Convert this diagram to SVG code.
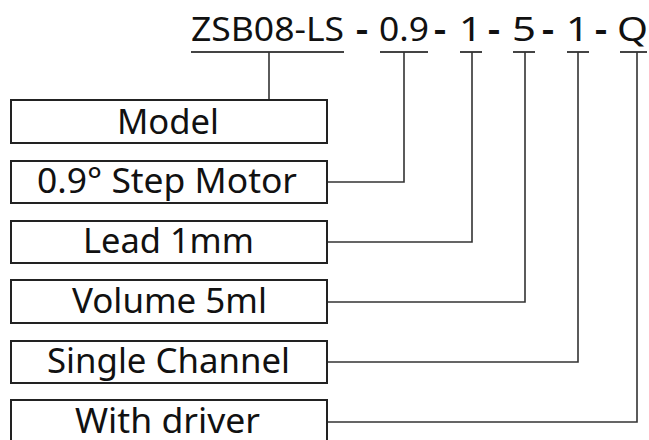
<svg xmlns="http://www.w3.org/2000/svg" width="649" height="440" viewBox="0 0 649 440">
<style>
.bg{fill:#fff}
.box{fill:#fff;stroke:#222;stroke-width:2}
.lbl{font-family:"Noto Sans","Liberation Sans",sans-serif;font-size:34px;fill:#111}
.ttl{font-family:"Noto Sans","Liberation Sans",sans-serif;font-size:33px;fill:#111}
.dash{font-family:"Noto Sans","Liberation Sans",sans-serif;font-size:33px;font-weight:bold;fill:#111}
.ul{stroke:#444;stroke-width:1.8;fill:none}
.con{stroke:#333;stroke-width:1.6;fill:none}
</style>
<rect class="bg" x="0" y="0" width="649" height="440"/>
<g id="title">
<text class="ttl" x="191" y="41" textLength="153" lengthAdjust="spacingAndGlyphs">ZSB08-LS</text>
<text class="dash" x="356" y="41" textLength="12" lengthAdjust="spacingAndGlyphs">-</text>
<text class="ttl" x="379" y="41" textLength="50" lengthAdjust="spacingAndGlyphs">0.9</text>
<text class="dash" x="434" y="41" textLength="12" lengthAdjust="spacingAndGlyphs">-</text>
<text class="ttl" x="459" y="41" textLength="23" lengthAdjust="spacingAndGlyphs">1</text>
<text class="dash" x="488" y="41" textLength="12" lengthAdjust="spacingAndGlyphs">-</text>
<text class="ttl" x="512" y="41" textLength="24" lengthAdjust="spacingAndGlyphs">5</text>
<text class="dash" x="542" y="41" textLength="12" lengthAdjust="spacingAndGlyphs">-</text>
<text class="ttl" x="566" y="41" textLength="23" lengthAdjust="spacingAndGlyphs">1</text>
<text class="dash" x="595" y="41" textLength="12" lengthAdjust="spacingAndGlyphs">-</text>
<text class="ttl" x="617" y="41" textLength="31" lengthAdjust="spacingAndGlyphs">Q</text>
<path class="ul" d="M191,52H344M380,52H428M460,52H482M513,52H535M567,52H589M620,52H647"/>
</g>
<g id="connectors">
<path class="con" d="M269,52V100"/>
<path class="con" d="M327,182H404V52"/>
<path class="con" d="M327,242H472V52"/>
<path class="con" d="M327,302H525V52"/>
<path class="con" d="M327,362H578V52"/>
<path class="con" d="M327,422H637V52"/>
</g>
<g id="node-model">
<rect class="box" x="11" y="100" width="316" height="43"/>
<text class="lbl" x="117" y="134" textLength="102" lengthAdjust="spacingAndGlyphs">Model</text>
</g>
<g id="node-step">
<rect class="box" x="11" y="161" width="316" height="42"/>
<text class="lbl" x="37" y="193" textLength="260" lengthAdjust="spacingAndGlyphs">0.9° Step Motor</text>
</g>
<g id="node-lead">
<rect class="box" x="11" y="221" width="316" height="42"/>
<text class="lbl" x="83" y="253" textLength="171" lengthAdjust="spacingAndGlyphs">Lead 1mm</text>
</g>
<g id="node-volume">
<rect class="box" x="11" y="280" width="316" height="43"/>
<text class="lbl" x="72" y="313" textLength="195" lengthAdjust="spacingAndGlyphs">Volume 5ml</text>
</g>
<g id="node-channel">
<rect class="box" x="11" y="341" width="316" height="42"/>
<text class="lbl" x="47" y="373" textLength="243" lengthAdjust="spacingAndGlyphs">Single Channel</text>
</g>
<g id="node-driver">
<rect class="box" x="11" y="400" width="316" height="44"/>
<text class="lbl" x="75" y="433" textLength="185" lengthAdjust="spacingAndGlyphs">With driver</text>
</g>
</svg>
